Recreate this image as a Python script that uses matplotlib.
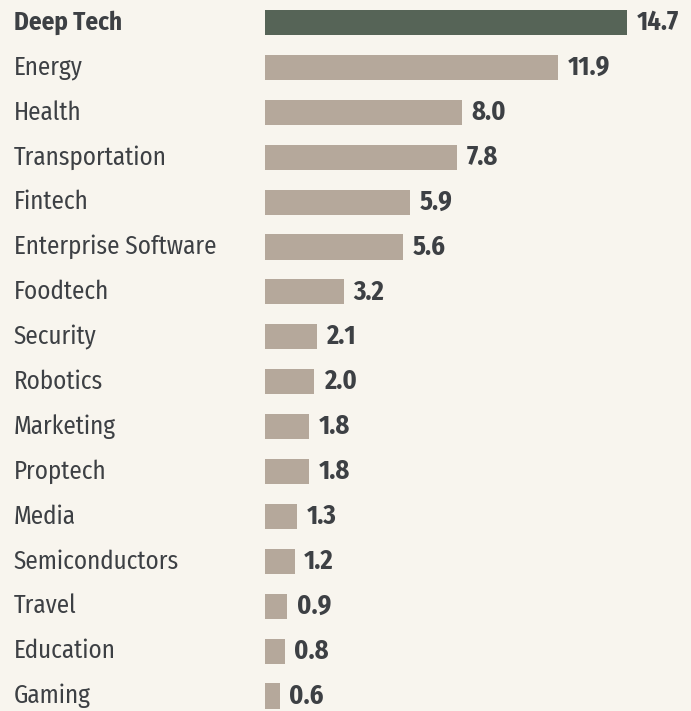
import matplotlib.pyplot as plt
import matplotlib.transforms as mtransforms

# data
categories = ["Deep Tech", "Energy", "Health", "Transportation", "Fintech",
              "Enterprise Software", "Foodtech", "Security", "Robotics", "Marketing",
              "Proptech", "Media", "Semiconductors", "Travel", "Education", "Gaming"]
values = [14.7, 11.9, 8.0, 7.8, 5.9, 5.6, 3.2, 2.1, 2.0, 1.8, 1.8, 1.3, 1.2, 0.9, 0.8, 0.6]
highlight = "Deep Tech"

bg = "#f8f5ee"
tan = "#b5a89b"
dark = "#566457"
txt = "#3d4044"

plt.rcParams["font.family"] = ["Fira Sans Condensed", "DejaVu Sans"]

fig = plt.figure(figsize=(6.91, 7.11), dpi=100, facecolor=bg)
ax = fig.add_axes([0, 0, 1, 1], facecolor=bg)

px = 24.6  # pixels per unit
ax.set_xlim(-265 / px, (691 - 265) / px)
ax.set_ylim((711 - 22.5) / 44.9, -22.5 / 44.9)

ypos = list(range(len(categories)))
colors = [dark if c == highlight else tan for c in categories]
ax.barh(ypos, values, height=0.56, color=colors)

trans = mtransforms.blended_transform_factory(ax.transAxes, ax.transData)
for y, c, v in zip(ypos, categories, values):
    bold = c == highlight
    ax.text(14 / 691, y, c, transform=trans, ha="left", va="center",
            fontsize=18, color=txt, fontweight="bold" if bold else "normal")
    ax.annotate(f"{v:.1f}", (v, y), xytext=(7, 0), textcoords="offset points",
                ha="left", va="center", fontsize=19, fontweight="bold", color=txt)

ax.axis("off")
fig.savefig("out.png", dpi=100, facecolor=bg)
